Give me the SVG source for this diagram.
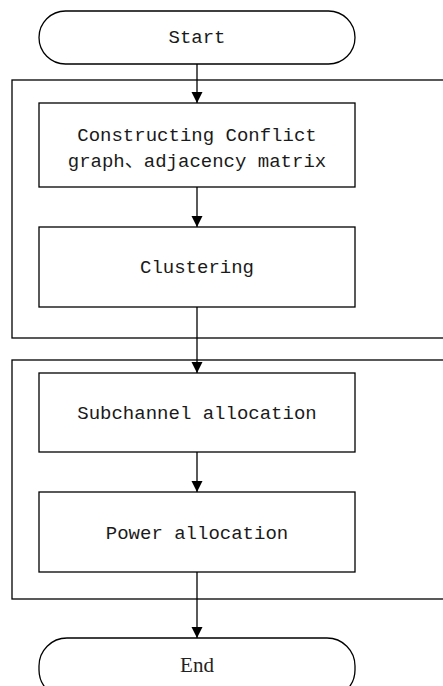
<svg xmlns="http://www.w3.org/2000/svg" width="443" height="686" viewBox="0 0 443 686">
<defs>
<marker id="arr" markerWidth="12" markerHeight="12" refX="11" refY="6" orient="auto" markerUnits="userSpaceOnUse">
<path d="M0,0.5 L11,6 L0,11.5 Z" fill="#000"/>
</marker>
<style>
.s{fill:#fff;stroke:#000;stroke-width:1.3}
.c{fill:none;stroke:#000;stroke-width:1.3}
.t{font-family:"Liberation Mono","Noto Sans CJK SC",monospace;font-size:19px;fill:#1a1a1a;text-anchor:middle}
.e{font-family:"Liberation Serif",serif;font-size:21px;fill:#222;text-anchor:middle}
</style>
</defs>
<rect x="0" y="0" width="443" height="686" fill="#fff"/>
<g id="group1"><rect class="c" x="12" y="80" width="440" height="258"/></g>
<g id="group2"><rect class="c" x="12" y="360" width="440" height="239"/></g>
<g id="start">
<rect class="s" x="39" y="11" width="316" height="53" rx="26.5" ry="26.5"/>
<text class="t" x="197" y="43">Start</text>
</g>
<g id="conflict">
<rect class="s" x="39" y="103" width="316" height="84"/>
<text class="t" x="197" y="141">Constructing Conflict</text>
<text class="t" x="197" y="167">graph、adjacency matrix</text>
</g>
<g id="clustering">
<rect class="s" x="39" y="227" width="316" height="80"/>
<text class="t" x="197" y="273">Clustering</text>
</g>
<g id="subchannel">
<rect class="s" x="39" y="373" width="316" height="79"/>
<text class="t" x="197" y="419">Subchannel allocation</text>
</g>
<g id="power">
<rect class="s" x="39" y="492" width="316" height="80"/>
<text class="t" x="197" y="539">Power allocation</text>
</g>
<g id="end">
<rect class="s" x="39" y="638" width="316" height="60" rx="28" ry="28"/>
<text class="e" x="197" y="672">End</text>
</g>
<g id="connectors">
<line class="c" x1="197" y1="64" x2="197" y2="103" marker-end="url(#arr)"/>
<line class="c" x1="197" y1="187" x2="197" y2="227" marker-end="url(#arr)"/>
<line class="c" x1="197" y1="307" x2="197" y2="373" marker-end="url(#arr)"/>
<line class="c" x1="197" y1="452" x2="197" y2="492" marker-end="url(#arr)"/>
<line class="c" x1="197" y1="572" x2="197" y2="638" marker-end="url(#arr)"/>
</g>
</svg>
